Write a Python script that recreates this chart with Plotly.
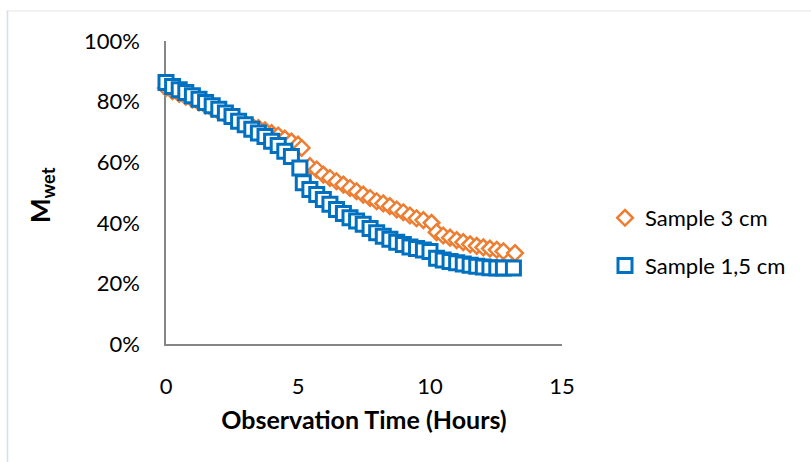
import plotly.graph_objects as go

# Sample 3 cm (orange diamonds)
t_3cm = [0, 0.25, 0.5, 0.75, 1.0, 1.25, 1.5, 1.75, 2.0, 2.25, 2.5, 2.75, 3.0, 3.25,
         3.5, 3.75, 4.0, 4.25, 4.5, 4.75, 5.0, 5.14, 5.45, 5.71, 5.96, 6.21, 6.46,
         6.72, 6.97, 7.22, 7.47, 7.73, 7.98, 8.23, 8.48, 8.74, 8.99, 9.24, 9.49,
         9.75, 10.06, 10.25, 10.5, 10.76, 11.01, 11.26, 11.52, 11.77, 12.02, 12.27,
         12.53, 12.78, 13.22]
m_3cm = [84.5, 83.4, 82.5, 81.6, 80.7, 79.7, 78.7, 77.7, 76.7, 75.7, 74.7, 73.7, 72.8,
         72.0, 71.3, 70.5, 69.6, 68.8, 67.8, 66.8, 65.8, 64.7, 58.7, 57.6, 55.9, 54.8,
         53.7, 52.6, 51.5, 50.4, 49.3, 48.2, 47.1, 46.4, 45.5, 44.4, 43.5, 42.4, 41.5,
         40.9, 40.0, 36.9, 35.8, 35.1, 34.3, 33.6, 32.9, 32.4, 31.9, 31.5, 31.1, 30.6,
         30.0]

# Sample 1,5 cm (blue squares)
t_15cm = [0, 0.25, 0.5, 0.75, 1.0, 1.25, 1.5, 1.75, 2.0, 2.25, 2.5, 2.75, 3.0, 3.25,
          3.5, 3.75, 4.0, 4.25, 4.5, 4.75, 5.07, 5.2, 5.45, 5.71, 5.96, 6.21, 6.46,
          6.72, 6.97, 7.22, 7.47, 7.73, 7.98, 8.23, 8.48, 8.74, 8.99, 9.24, 9.49,
          9.75, 10.0, 10.25, 10.5, 10.76, 11.01, 11.26, 11.52, 11.77, 12.02, 12.27,
          12.53, 12.78, 13.16]
m_15cm = [86.3, 85.0, 83.9, 83.0, 81.9, 80.8, 79.7, 78.6, 77.5, 76.2, 75.1, 73.5, 72.4,
          70.9, 69.6, 68.5, 66.9, 65.5, 63.6, 61.9, 58.1, 53.2, 51.0, 49.3, 47.7, 46.1,
          44.4, 43.1, 41.7, 40.6, 39.5, 38.1, 36.7, 35.6, 34.6, 33.6, 32.8, 32.0, 31.5,
          31.0, 30.5, 28.3, 27.7, 27.2, 26.8, 26.4, 26.0, 25.7, 25.4, 25.2, 25.1, 25.1,
          25.1]

x_ticks = [0, 5, 10, 15]
y_ticks = [0, 20, 40, 60, 80, 100]
y_ticklabels = ["0%", "20%", "40%", "60%", "80%", "100%"]

FONT = "Lato"
ORANGE = "#ED7D31"
BLUE = "#0070C0"

fig = go.Figure()
fig.add_trace(go.Scatter(
    x=t_3cm, y=m_3cm, mode="markers", name="Sample 3 cm", legendgroup="a",
    cliponaxis=False,
    marker=dict(symbol="diamond", size=12, color="white", line=dict(width=2.5, color=ORANGE)),
))
fig.add_trace(go.Scatter(
    x=t_15cm, y=m_15cm, mode="markers", name="Sample 1,5 cm", legendgroup="b",
    cliponaxis=False,
    marker=dict(symbol="square", size=14, color="white", line=dict(width=3, color=BLUE)),
))

L, R, T, B = 166, 249, 41, 118
W, H = 811, 462
pw, ph = W - L - R, H - T - B

def px(x):
    return (x - L) / pw

def py(y):
    return (H - B - y) / ph

fig.update_layout(
    width=W, height=H,
    margin=dict(l=L, r=R, t=T, b=B),
    paper_bgcolor="white", plot_bgcolor="white",
    font=dict(family=FONT, color="black", size=22),
    showlegend=True,
    legend=dict(
        x=px(605), y=py(197), xanchor="left", yanchor="top",
        font=dict(family=FONT, size=22, color="black"),
        traceorder="grouped", tracegroupgap=16, itemwidth=30,
        bgcolor="rgba(0,0,0,0)",
    ),
    xaxis=dict(
        range=[0, 15], tickvals=x_ticks, showgrid=False, zeroline=False,
        showline=True, linecolor="#868686", linewidth=1.5, layer="below traces",
        ticks="outside", ticklen=22, tickcolor="rgba(0,0,0,0)",
        tickfont=dict(family=FONT, size=22),
        title=dict(text="<b>Observation Time (Hours)</b>", standoff=13,
                   font=dict(family=FONT, size=25)),
    ),
    yaxis=dict(
        range=[0, 100], tickvals=y_ticks, ticktext=y_ticklabels, showgrid=False, zeroline=False,
        showline=True, linecolor="#868686", linewidth=1.5, layer="below traces",
        ticks="outside", ticklen=20, tickcolor="rgba(0,0,0,0)",
        tickfont=dict(family=FONT, size=22),
    ),
    annotations=[dict(
        text="<b>M<sub>wet</sub></b>", xref="paper", yref="paper",
        x=px(42), y=py(195), xanchor="center", yanchor="middle",
        textangle=-90, showarrow=False, font=dict(family=FONT, size=26, color="black"),
    )],
    shapes=[
        dict(type="line", xref="paper", yref="paper", x0=px(6), x1=px(811), y0=py(11), y1=py(11),
             line=dict(color="#eeeeee", width=1.5)),
        dict(type="line", xref="paper", yref="paper", x0=px(7.5), x1=px(7.5), y0=py(11), y1=py(462),
             line=dict(color="#cfe0f4", width=1.5)),
    ],
)

fig.write_html("out.html")
